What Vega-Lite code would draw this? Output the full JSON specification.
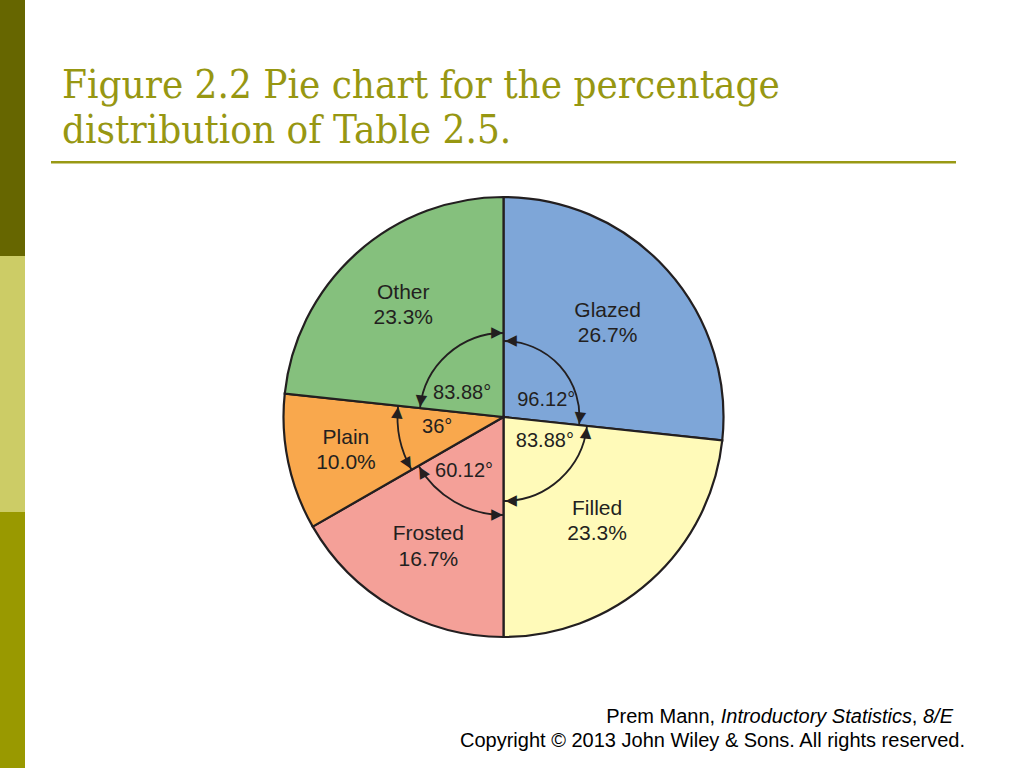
{
  "$schema": "https://vega.github.io/schema/vega-lite/v6.json",
  "description": "Figure 2.2 Pie chart for the percentage distribution of Table 2.5 (donut types).",
  "padding": 0,
  "background": "white",
  "config": {"view": {"stroke": null}},
  "resolve": {"scale": {"color": "independent"}},
  "datasets": {
    "slices": [
      {"idx": 1, "cat": "Glazed", "pct": 0.267, "deg": 96.12, "degLabel": "96.12°"},
      {"idx": 2, "cat": "Filled", "pct": 0.233, "deg": 83.88, "degLabel": "83.88°"},
      {"idx": 3, "cat": "Frosted", "pct": 0.167, "deg": 60.12, "degLabel": "60.12°"},
      {"idx": 4, "cat": "Plain", "pct": 0.1, "deg": 36, "degLabel": "36°"},
      {"idx": 5, "cat": "Other", "pct": 0.233, "deg": 83.88, "degLabel": "83.88°"}
    ],
    "bands": [{"band": "a"}, {"band": "b"}, {"band": "c"}],
    "underline": [{"rule": "title"}],
    "footer": [
      {"line": 1, "part": "author", "text": "Prem Mann,"},
      {"line": 1, "part": "book", "text": "Introductory Statistics"},
      {"line": 1, "part": "comma", "text": ","},
      {"line": 1, "part": "edition", "text": "8/E"},
      {"line": 2, "part": "copyright", "text": "Copyright © 2013 John Wiley & Sons. All rights reserved."}
    ]
  },
  "spacing": 26,
  "hconcat": [
    {
      "width": 25,
      "height": 768,
      "data": {"name": "bands"},
      "mark": {"type": "rect"},
      "encoding": {
        "y": {"field": "band", "type": "nominal", "axis": null, "scale": {"paddingInner": 0, "paddingOuter": 0}},
        "color": {"field": "band", "type": "nominal", "legend": null,
          "scale": {"domain": ["a", "b", "c"], "range": ["#666600", "#cccc66", "#999900"]}}
      }
    },
    {
      "spacing": 0,
      "resolve": {"scale": {"color": "independent"}},
      "vconcat": [
        {
          "width": 905,
          "height": 65,
          "data": {"name": "underline"},
          "mark": {"type": "rect", "opacity": 0}
        },
        {
          "width": 905,
          "height": 2.5,
          "data": {"name": "underline"},
          "title": {
            "text": ["Figure 2.2 Pie chart for the percentage", "distribution of Table 2.5."],
            "anchor": "start",
            "font": "DejaVu Serif Condensed, DejaVu Serif, serif",
            "fontSize": 40,
            "fontWeight": "normal",
            "color": "#979712",
            "lineHeight": 45.5,
            "offset": 10,
            "dx": 11
          },
          "mark": {"type": "rect", "color": "#999914"}
        },
        {
          "width": 905,
          "height": 506,
          "data": {"name": "slices"},
          "transform": [{"stack": "deg", "groupby": [], "sort": [{"field": "idx", "order": "ascending"}], "as": ["s", "e"]}],
          "resolve": {"scale": {"radius": "independent", "angle": "independent"}},
          "layer": [
            {
              "mark": {"type": "arc", "radius": 220, "stroke": "#231f20", "strokeWidth": 2.2},
              "encoding": {
                "theta": {"field": "s", "type": "quantitative", "scale": {"domain": [0, 360]}},
                "theta2": {"field": "e"},
                "color": {"field": "cat", "type": "nominal", "legend": null,
                  "scale": {"domain": ["Glazed", "Filled", "Frosted", "Plain", "Other"],
                    "range": ["#7ea6d8", "#fffab9", "#f4a098", "#f9a84d", "#85c07d"]}}
              }
            },
            {
              "mark": {"type": "arc", "filled": false, "stroke": "#231f20", "strokeWidth": 1.8},
              "encoding": {
                "theta": {"field": "s", "type": "quantitative", "scale": {"domain": [0, 360]}},
                "theta2": {"field": "e"},
                "radius": {"field": "pct", "type": "quantitative",
                  "scale": {"type": "linear", "domain": [0.1, 0.167, 0.233, 0.267], "range": [106, 98, 84, 76]}},
                "radius2": {"field": "pct"}
              }
            },
            {
              "mark": {"type": "text", "text": "▲", "font": "DejaVu Sans", "fontSize": 15, "color": "#231f20",
                "align": "center", "baseline": "middle", "dy": 6},
              "encoding": {
                "theta": {"field": "s", "type": "quantitative", "scale": {"domain": [0, 360]}},
                "radius": {"field": "pct", "type": "quantitative",
                  "scale": {"type": "linear", "domain": [0.1, 0.167, 0.233, 0.267], "range": [106, 98, 84, 76]}},
                "angle": {"field": "s", "type": "quantitative", "scale": {"domain": [0, 360], "range": [-90, 270]}}
              }
            },
            {
              "mark": {"type": "text", "text": "▲", "font": "DejaVu Sans", "fontSize": 15, "color": "#231f20",
                "align": "center", "baseline": "middle", "dy": 6},
              "encoding": {
                "theta": {"field": "e", "type": "quantitative", "scale": {"domain": [0, 360]}},
                "radius": {"field": "pct", "type": "quantitative",
                  "scale": {"type": "linear", "domain": [0.1, 0.167, 0.233, 0.267], "range": [106, 98, 84, 76]}},
                "angle": {"field": "e", "type": "quantitative", "scale": {"domain": [0, 360], "range": [90, 450]}}
              }
            },
            {
              "mark": {"type": "text", "radius": 140, "font": "Liberation Sans", "fontSize": 21, "color": "#231f20", "dy": -12.5},
              "encoding": {
                "theta": {"field": "deg", "type": "quantitative", "stack": true, "scale": {"domain": [0, 360]}},
                "order": {"field": "idx", "type": "quantitative"},
                "text": {"field": "cat"},
                "opacity": {"condition": {"test": "datum.cat === 'Glazed' || datum.cat === 'Filled'", "value": 1}, "value": 0}
              }
            },
            {
              "mark": {"type": "text", "radius": 140, "font": "Liberation Sans", "fontSize": 21, "color": "#231f20", "dy": 13},
              "encoding": {
                "theta": {"field": "deg", "type": "quantitative", "stack": true, "scale": {"domain": [0, 360]}},
                "order": {"field": "idx", "type": "quantitative"},
                "text": {"field": "pct", "format": ".1%"},
                "opacity": {"condition": {"test": "datum.cat === 'Glazed' || datum.cat === 'Filled'", "value": 1}, "value": 0}
              }
            },
            {
              "mark": {"type": "text", "radius": 150, "font": "Liberation Sans", "fontSize": 21, "color": "#231f20", "dy": -12.5},
              "encoding": {
                "theta": {"field": "deg", "type": "quantitative", "stack": true, "scale": {"domain": [0, 360]}},
                "order": {"field": "idx", "type": "quantitative"},
                "text": {"field": "cat"},
                "opacity": {"condition": {"test": "datum.cat === 'Frosted' || datum.cat === 'Other'", "value": 1}, "value": 0}
              }
            },
            {
              "mark": {"type": "text", "radius": 150, "font": "Liberation Sans", "fontSize": 21, "color": "#231f20", "dy": 13},
              "encoding": {
                "theta": {"field": "deg", "type": "quantitative", "stack": true, "scale": {"domain": [0, 360]}},
                "order": {"field": "idx", "type": "quantitative"},
                "text": {"field": "pct", "format": ".1%"},
                "opacity": {"condition": {"test": "datum.cat === 'Frosted' || datum.cat === 'Other'", "value": 1}, "value": 0}
              }
            },
            {
              "mark": {"type": "text", "radius": 161, "font": "Liberation Sans", "fontSize": 21, "color": "#231f20", "dy": -12.5},
              "encoding": {
                "theta": {"field": "deg", "type": "quantitative", "stack": true, "scale": {"domain": [0, 360]}},
                "order": {"field": "idx", "type": "quantitative"},
                "text": {"field": "cat"},
                "opacity": {"condition": {"test": "datum.cat === 'Plain'", "value": 1}, "value": 0}
              }
            },
            {
              "mark": {"type": "text", "radius": 161, "font": "Liberation Sans", "fontSize": 21, "color": "#231f20", "dy": 13},
              "encoding": {
                "theta": {"field": "deg", "type": "quantitative", "stack": true, "scale": {"domain": [0, 360]}},
                "order": {"field": "idx", "type": "quantitative"},
                "text": {"field": "pct", "format": ".1%"},
                "opacity": {"condition": {"test": "datum.cat === 'Plain'", "value": 1}, "value": 0}
              }
            },
            {
              "mark": {"type": "text", "radius": 46, "font": "Liberation Sans", "fontSize": 20, "color": "#231f20"},
              "encoding": {
                "theta": {"field": "deg", "type": "quantitative", "stack": true, "bandPosition": 0.71, "scale": {"domain": [0, 360]}},
                "order": {"field": "idx", "type": "quantitative"},
                "text": {"field": "degLabel"},
                "opacity": {"condition": {"test": "datum.cat === 'Glazed'", "value": 1}, "value": 0}
              }
            },
            {
              "mark": {"type": "text", "radius": 48, "font": "Liberation Sans", "fontSize": 20, "color": "#231f20"},
              "encoding": {
                "theta": {"field": "deg", "type": "quantitative", "stack": true, "bandPosition": 0.29, "scale": {"domain": [0, 360]}},
                "order": {"field": "idx", "type": "quantitative"},
                "text": {"field": "degLabel"},
                "opacity": {"condition": {"test": "datum.cat === 'Filled' || datum.cat === 'Other'", "value": 1}, "value": 0}
              }
            },
            {
              "mark": {"type": "text", "radius": 67, "font": "Liberation Sans", "fontSize": 20, "color": "#231f20"},
              "encoding": {
                "theta": {"field": "deg", "type": "quantitative", "stack": true, "bandPosition": 0.6, "scale": {"domain": [0, 360]}},
                "order": {"field": "idx", "type": "quantitative"},
                "text": {"field": "degLabel"},
                "opacity": {"condition": {"test": "datum.cat === 'Frosted' || datum.cat === 'Plain'", "value": 1}, "value": 0}
              }
            }
          ]
        },
        {
          "width": 914,
          "height": 82.7,
          "data": {"name": "footer"},
          "encoding": {
            "y": {"field": "line", "type": "ordinal", "axis": null,
              "scale": {"type": "band", "paddingInner": 0, "paddingOuter": 0.723, "align": 1}},
            "text": {"field": "text"}
          },
          "layer": [
            {
              "transform": [{"filter": "datum.part === 'author'"}],
              "mark": {"type": "text", "x": "width", "align": "right", "baseline": "middle", "dx": -249.9,
                "font": "Liberation Sans", "fontSize": 20, "color": "black"}
            },
            {
              "transform": [{"filter": "datum.part === 'book'"}],
              "mark": {"type": "text", "x": "width", "align": "right", "baseline": "middle", "dx": -53.1,
                "font": "Liberation Sans", "fontSize": 20, "fontStyle": "italic", "color": "black"}
            },
            {
              "transform": [{"filter": "datum.part === 'comma'"}],
              "mark": {"type": "text", "x": "width", "align": "right", "baseline": "middle", "dx": -47.6,
                "font": "Liberation Sans", "fontSize": 20, "color": "black"}
            },
            {
              "transform": [{"filter": "datum.part === 'edition'"}],
              "mark": {"type": "text", "x": "width", "align": "right", "baseline": "middle", "dx": -12,
                "font": "Liberation Sans", "fontSize": 20, "fontStyle": "italic", "color": "black"}
            },
            {
              "transform": [{"filter": "datum.part === 'copyright'"}],
              "mark": {"type": "text", "x": "width", "align": "right", "baseline": "middle",
                "font": "Liberation Sans", "fontSize": 20, "color": "black"}
            }
          ]
        }
      ]
    }
  ]
}
